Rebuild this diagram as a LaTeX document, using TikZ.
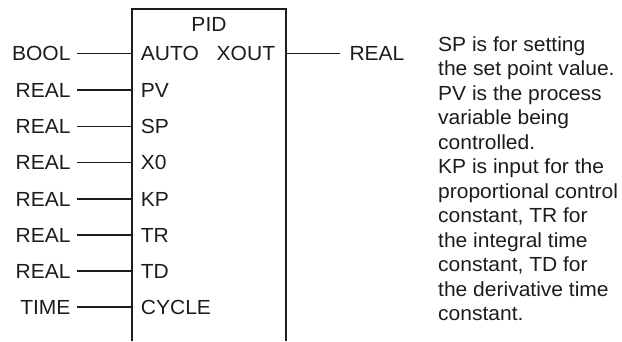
\documentclass[tikz,border=0pt]{standalone}
\usepackage{fontspec}
\setmainfont{Liberation Sans}[FakeStretch=1.03]
\definecolor{ink}{RGB}{30,27,28}
\begin{document}
\begin{tikzpicture}[x=1pt,y=-1pt,
  txt/.style={font=\fontsize{20.4}{24.5}\selectfont, text=ink, inner sep=0pt},
  typein/.style={txt, anchor=east, inner xsep=6.6pt},
  typeout/.style={txt, anchor=west, inner xsep=9.3pt},
  pin/.style={txt, anchor=west},
  wire/.style={draw=ink, line width=1.1pt},
  frame/.style={draw=ink, line width=1.3pt}]
\useasboundingbox (0,0) rectangle (622,341);
% function block (open at the bottom)
\coordinate (bl) at (132,341);
\coordinate (tl) at (132,9);
\coordinate (tr) at (286,9);
\coordinate (br) at (286,341);
\draw[frame] (bl) -- (tl) -- (tr) -- (br);
\node[txt] (pid) at (209,24.3) {PID};
% inputs
\foreach \pn/\ty/\yy in {AUTO/BOOL/53.3, PV/REAL/90, SP/REAL/126.3, X0/REAL/162.7,
                         KP/REAL/199, TR/REAL/235, TD/REAL/271, CYCLE/TIME/307}{
  \node[pin] (p\pn) at (140.7,\yy) {\pn};
  \coordinate (e\pn) at (132,\yy);
  \node[typein] (t\pn) at (77.3,\yy) {\ty};
  \draw[wire] (t\pn.east) -- (e\pn);
}
% output
\node[txt, anchor=east] (pXOUT) at (275.3,53.3) {XOUT};
\coordinate (eXOUT) at (286,53.3);
\node[typeout] (tXOUT) at (340,53.3) {REAL};
\draw[wire] (eXOUT) -- (tXOUT.west);
% explanation
\node[txt, anchor=north west, align=left] (note) at (438,36.3)
{SP is for setting\\
the set point value.\\
PV is the process\\
variable being\\
controlled.\\
KP is input for the\\
proportional control\\
constant, TR for\\
the integral time\\
constant, TD for\\
the derivative time\\
constant.};
\end{tikzpicture}
\end{document}
